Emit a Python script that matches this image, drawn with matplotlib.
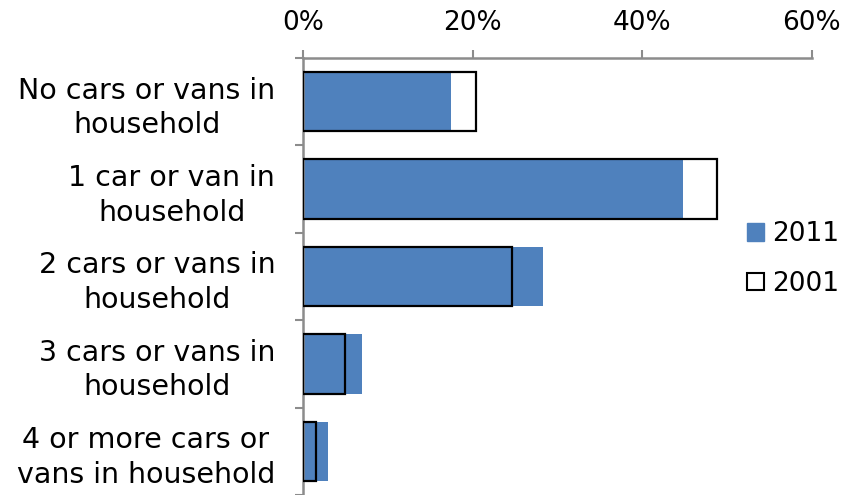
import numpy as np
import matplotlib
matplotlib.use("Agg")
import matplotlib.pyplot as plt
from matplotlib.patches import Patch
from matplotlib.ticker import FuncFormatter

categories = ["No cars or vans in\nhousehold",
              "1 car or van in\nhousehold",
              "2 cars or vans in\nhousehold",
              "3 cars or vans in\nhousehold",
              "4 or more cars or\nvans in household"]
share_2011 = [17.4, 44.8, 28.3, 7.0, 2.9]
share_2001 = [20.4, 48.8, 24.6, 5.0, 1.5]

blue = "#4F81BD"
grey = "#8c8c8c"
fs = 19

fig = plt.figure(figsize=(8.44, 4.95), dpi=100)
ax = fig.add_axes([0.359, 0.0, 0.603, 0.883])

y = np.arange(len(categories))
ax.barh(y, share_2011, height=0.68, color=blue, zorder=2)
ax.barh(y, share_2001, height=0.68, facecolor="none", edgecolor="black", linewidth=1.6, zorder=3)

ax.set_xlim(0, 60)
ax.set_ylim(len(categories) - 0.5, -0.5)
ax.xaxis.tick_top()
ax.set_xticks([0, 20, 40, 60])
ax.xaxis.set_major_formatter(FuncFormatter(lambda v, p: f"{v:.0f}%"))

# category boundary ticks, labels centred on the rows
ax.set_yticks(np.arange(len(categories) + 1) - 0.5)
ax.set_yticklabels([])
ax.set_yticks(y, minor=True)
ax.set_yticklabels(categories, minor=True, ha="right", multialignment="center",
                   fontsize=20.5, linespacing=1.3)
ax.tick_params(axis="y", which="minor", length=0, pad=20)
ax.tick_params(axis="y", which="major", length=6, width=1.5, color=grey)
ax.tick_params(axis="x", length=6, width=1.5, color=grey, labelsize=fs, pad=10)

for s in ["right", "bottom"]:
    ax.spines[s].set_visible(False)
for s in ["left", "top"]:
    ax.spines[s].set_color(grey)
    ax.spines[s].set_linewidth(1.8)

handles = [Patch(facecolor=blue, edgecolor=blue, label="2011"),
           Patch(facecolor="white", edgecolor="black", linewidth=1.5, label="2001")]
fig.legend(handles=handles, loc="center left", bbox_to_anchor=(0.857, 0.477),
           frameon=False, fontsize=fs, handlelength=0.65, handleheight=0.65,
           handletextpad=0.3, labelspacing=0.9)

fig.savefig("out.png", dpi=100)
